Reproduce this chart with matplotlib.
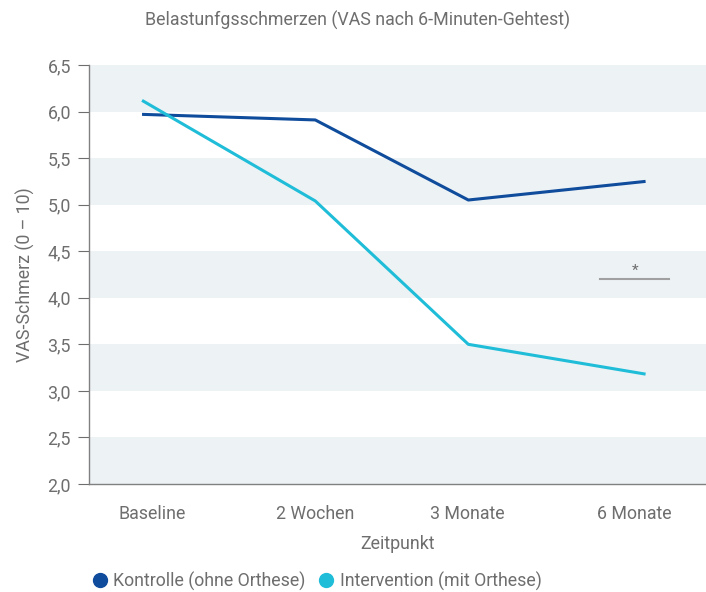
import matplotlib
matplotlib.use("Agg")
import matplotlib.pyplot as plt
from matplotlib.lines import Line2D

plt.rcParams['font.family'] = ['Roboto', 'DejaVu Sans']

categories = ["Baseline", "2 Wochen", "3 Monate", "6 Monate"]
kontrolle = [5.97, 5.91, 5.05, 5.25]
intervention = [6.12, 5.04, 3.50, 3.18]
yticks = [2.0, 2.5, 3.0, 3.5, 4.0, 4.5, 5.0, 5.5, 6.0, 6.5]
ytick_labels = ["2,0", "2,5", "3,0", "3,5", "4,0", "4,5", "5,0", "5,5", "6,0", "6,5"]
sig_level = 4.20

# layout: category positions on the x axis (as drawn in the reference)
xpos = [0.0, 1.032, 1.944, 3.0]
label_pos = [0.06, 1.03, 1.94, 2.93]

c_k = "#0f4c9c"
c_i = "#1fbdd8"
band = "#edf2f5"
grey = "#6e6e6e"
fs = 12.8

fig = plt.figure(figsize=(7.06, 5.92), dpi=100)
ax = fig.add_axes([89/706, 108/592, 1 - 89/706, (484-65)/592])

ax.set_xlim(-0.316, 3.36)
ax.set_ylim(2.0, 6.5)

for lo in [2.0, 3.0, 4.0, 5.0, 6.0]:
    ax.axhspan(lo, lo + 0.5, color=band, lw=0, zorder=0)

ax.plot(xpos, kontrolle, color=c_k, lw=2.2, zorder=3, solid_capstyle='butt')
ax.plot(xpos, intervention, color=c_i, lw=2.2, zorder=3, solid_capstyle='butt')

# significance marker
ax.plot([2.73, 3.14], [sig_level, sig_level], color="#a0a0a0", lw=1.5, zorder=2)
ax.text(2.935, sig_level + 0.015, "*", ha='center', va='bottom', color=grey, fontsize=11)

ax.set_yticks(yticks)
ax.set_yticklabels(ytick_labels)
ax.set_xticks(label_pos)
ax.set_xticklabels(categories)
ax.tick_params(axis='y', colors=grey, labelsize=fs, length=8, width=0.8, pad=5, color=grey)
ax.tick_params(axis='x', colors=grey, labelsize=fs, length=0, pad=15)

for s in ['top', 'right']:
    ax.spines[s].set_visible(False)
for s in ['left', 'bottom']:
    ax.spines[s].set_color("#808080")
    ax.spines[s].set_linewidth(1.0)

ax.set_xlabel("Zeitpunkt", color=grey, fontsize=fs, labelpad=9)
ax.set_ylabel("VAS-Schmerz (0 – 10)", color=grey, fontsize=fs, labelpad=9)

fig.text(358/706, 1 - 20/592, "Belastunfgsschmerzen (VAS nach 6-Minuten-Gehtest)",
         ha='center', va='center', color=grey, fontsize=fs)

handles = [Line2D([0], [0], marker='o', ls='', markersize=10, markerfacecolor=c_k, markeredgecolor=c_k),
           Line2D([0], [0], marker='o', ls='', markersize=10, markerfacecolor=c_i, markeredgecolor=c_i)]
leg = fig.legend(handles, ["Kontrolle (ohne Orthese)", "Intervention (mit Orthese)"],
                 loc='center left', bbox_to_anchor=(93/706, 1 - 581/592), ncol=2, frameon=False,
                 handlelength=0.8, handletextpad=0.35, columnspacing=0.75, fontsize=fs,
                 borderaxespad=0, borderpad=0)
for t in leg.get_texts():
    t.set_color(grey)

fig.savefig("out.png", dpi=100)
